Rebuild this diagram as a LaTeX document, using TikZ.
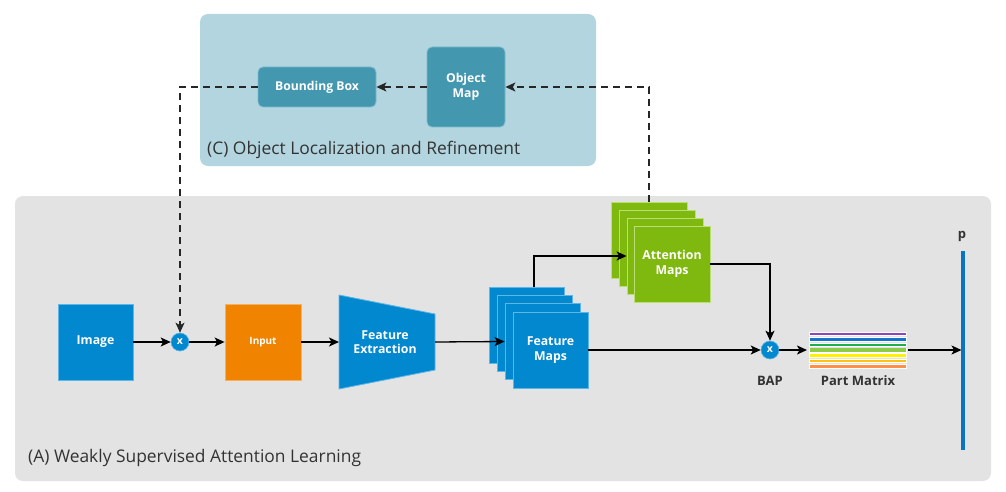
\documentclass[tikz,border=0pt]{standalone}
\usepackage{fontspec}
\setmainfont{Open Sans}
\usetikzlibrary{arrows.meta,calc}
\definecolor{panelA}{HTML}{E3E3E3}
\definecolor{panelC}{HTML}{B2D5E0}
\definecolor{teal}{HTML}{4397AF}
\definecolor{tealb}{HTML}{7DBBCD}
\definecolor{bblue}{HTML}{0288CF}
\definecolor{bblueb}{HTML}{5DB6E6}
\definecolor{ggreen}{HTML}{7FB80E}
\definecolor{ggreenb}{HTML}{BADF73}
\definecolor{oorange}{HTML}{F08300}
\definecolor{oorangeb}{HTML}{F7B060}
\definecolor{txt}{HTML}{333333}
\definecolor{pbar}{HTML}{0A74C4}
\definecolor{pm1}{HTML}{8E44BE}
\definecolor{pm2}{HTML}{1473CC}
\definecolor{pm3}{HTML}{1DAE4E}
\definecolor{pm4}{HTML}{8CCB4A}
\definecolor{pm5}{HTML}{FFF200}
\definecolor{pm6}{HTML}{FFC20E}
\definecolor{pm7}{HTML}{FF904A}
\tikzset{
  box/.style={draw=#1b, fill=#1, line width=0.8pt, text=white, font=\fontsize{12.3}{14.5}\selectfont\bfseries, align=center, inner sep=0pt},
  mapbox/.style={box=#1, minimum width=75pt, minimum height=76pt},
  tealbox/.style={draw=tealb, fill=teal, line width=0.8pt, rounded corners=5pt, text=white, font=\fontsize{12.2}{14.5}\selectfont\bfseries, align=center, inner sep=0pt},
  mult/.style={circle, fill=bblue, draw=bblueb, line width=0.6pt, minimum size=18pt, inner sep=0pt, text=white, font=\fontsize{10.5}{10}\selectfont\bfseries},
  arr/.style={line width=1.3pt, -{Stealth[length=10pt,width=9pt,inset=2.5pt]}},
  darr/.style={arr, dash pattern=on 7pt off 5pt, draw=black!85},
  title/.style={text=txt, font=\fontsize{17.4}{20}\selectfont, anchor=west, inner sep=0pt},
  lab/.style={text=txt, font=\fontsize{#1}{14}\selectfont\bfseries, inner sep=0pt},
}
\begin{document}
\begin{tikzpicture}[x=1pt,y=-1pt]
\useasboundingbox (0,0) rectangle (1006,492);
% panels
\fill[panelC, rounded corners=8pt] (200,14) rectangle (596,166);
\fill[panelA, rounded corners=8pt] (15,196) rectangle (991,481);
\node[title] (tC) at (207,150) {(C) Object Localization and Refinement};
\node[title] (tA) at (28,458) {(A) Weakly Supervised Attention Learning};
% panel C nodes
\node[tealbox, minimum width=118pt, minimum height=40pt] (bb) at (317,87) {Bounding Box};
\node[tealbox, minimum width=78pt, minimum height=80pt] (om) at (466,87) {Object\\Map};
% main row
\node[mapbox=bblue] (img) at (95.5,342) {Image};
\node[mult] (m1) at (180,342) {x};
\node[box=oorange, minimum width=76pt, minimum height=76pt, font=\fontsize{10}{12}\selectfont\bfseries] (inp) at (263,342) {Input};
\fill[bblue, draw=bblueb, line width=0.8pt] (339,295) -- (435,314) -- (435,370) -- (339,389) -- cycle;
\node[text=white, font=\fontsize{12.3}{14.5}\selectfont\bfseries, align=center, inner sep=0pt] (fe) at (385,342) {Feature\\Extraction};
\coordinate (few) at (339,342);
\coordinate (fee) at (435,342);
% feature maps
\node[mapbox=bblue] (fm1) at (526.5,325) {};
\node[mapbox=bblue] (fm2) at (534.5,333) {};
\node[mapbox=bblue] (fm3) at (542.5,341.5) {};
\node[mapbox=bblue] (fm4) at (550.5,350) {Feature\\Maps};
% attention maps
\node[mapbox=ggreen, minimum width=76pt] (am1) at (649,240) {};
\node[mapbox=ggreen, minimum width=76pt] (am2) at (657,248) {};
\node[mapbox=ggreen, minimum width=76pt] (am3) at (665,256) {};
\node[mapbox=ggreen, minimum width=76pt] (am4) at (672,264) {Attention\\Maps};
% BAP
\node[mult] (bap) at (770,350) {x};
\node[lab=13] (baplab) at (770,381) {BAP};
% part matrix
\foreach \c/\y/\w in {pm1/334/2.6, pm2/339.5/3.6, pm3/344.8/2.6, pm4/350/3.6, pm5/355.5/2.8, pm6/361/2.6, pm7/366.5/3.6}{
  \draw[white, line width=\w pt+1.4pt] (809,\y) -- (907,\y);
  \draw[\c, line width=\w pt] (809.7,\y) -- (906.3,\y);
}
\coordinate (pmw) at (807,350);
\coordinate (pme) at (908,350);
\node[lab=13] (pmlab) at (858,381) {Part Matrix};
% p bar
\draw[pbar, line width=3.5pt] (963,251) coordinate (pt) -- (963,450) coordinate (pb);
\coordinate (pin) at (961.5,350);
\node[lab=13] (plab) at (962,236) {p};
% connectors
\draw[arr] (img) -- (m1);
\draw[arr] (m1) -- (inp);
\draw[arr] (inp) -- (few);
\draw[arr] (fee) -- (fm3.west);
\draw[arr] ($(fm1.north)+(7.5,0)$) |- (am3.west);
\draw[arr] (fm4.east) -- (bap);
\draw[arr] (am4.east) -| (bap);
\draw[arr] (bap) -- (pmw);
\draw[arr] (pme) -- (pin);
\draw[darr] (am1.north) |- (om.east);
\draw[darr] (om.west) -- (bb.east);
\draw[darr] (bb.west) -| (m1.north);
\end{tikzpicture}
\end{document}
